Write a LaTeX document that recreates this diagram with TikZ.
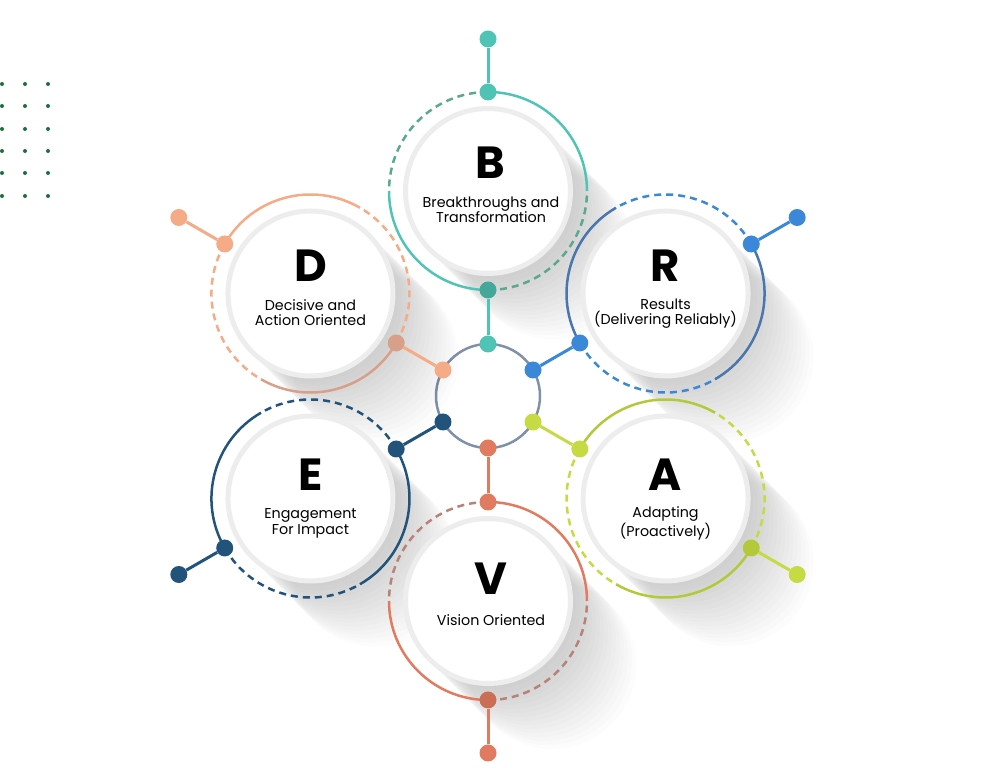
\documentclass[tikz,border=0pt]{standalone}
\usepackage{fontspec}
\setmainfont{Poppins}
\usepackage{tikz}
\usetikzlibrary{calc,positioning}
\usepackage{xcolor}
\definecolor{bteal}{HTML}{4FC4B4}
\definecolor{btealdk}{HTML}{5AA88F}
\definecolor{rblue}{HTML}{3B88D8}
\definecolor{rbluedk}{HTML}{4A76AE}
\definecolor{agreen}{HTML}{C6DA44}
\definecolor{agreendk}{HTML}{B3C93A}
\definecolor{vcoral}{HTML}{E07B5F}
\definecolor{vcoraldk}{HTML}{B98277}
\definecolor{enavy}{HTML}{22537A}
\definecolor{dpeach}{HTML}{F5AB86}
\definecolor{dpeachdk}{HTML}{D9A089}
\definecolor{hubgray}{HTML}{7F90A7}
\definecolor{gridgreen}{HTML}{1F6E3E}

\begin{document}
\begin{tikzpicture}[x=1pt,y=1pt,every node/.style={font=\small}]
\tikzstyle{disk}=[circle,fill=white,draw=black!7,line width=5pt,minimum size=165pt,inner sep=0pt]
\tikzstyle{dot}=[circle,inner sep=0pt,minimum size=17pt]
\tikzstyle{letter}=[font=\fontsize{45}{45}\selectfont\bfseries]
\tikzstyle{caption}=[align=center,font=\fontsize{14.3}{15.5}\selectfont]
\tikzstyle{link}=[line width=3pt]
\tikzstyle{solidarc}=[line width=2.5pt]
\tikzstyle{dasharc}=[line width=2.5pt,dash pattern=on 7pt off 5pt]
\useasboundingbox (0,0) rectangle (991,768);

% dot grid, top left
\foreach \gx in {2,25,48}
  \foreach \gy in {684,662,639,617,595,572}
    \fill[gridgreen] (\gx,\gy) circle[radius=2];

% hub and ring centres
\coordinate (hub) at (488,372);
\coordinate (bc) at ($(hub)+(90:205)$);
\coordinate (rc) at ($(hub)+(30:205)$);
\coordinate (ac) at ($(hub)+(-30:205)$);
\coordinate (vc) at ($(hub)+(-90:205)$);
\coordinate (ec) at ($(hub)+(-150:205)$);
\coordinate (dc) at ($(hub)+(150:205)$);
\draw[hubgray,line width=2.5pt] (hub) circle[radius=52];

% long shadows
\foreach \c in {bc,rc,ac,vc,ec,dc}
  \foreach \d in {4,8,...,64}
    \fill[black,opacity=0.012] ($(\c)+(\d,-\d)$) circle[radius=84];

% rings
\draw[dasharc,btealdk] ($(bc)+(90:99)$) arc[start angle=90,end angle=180,radius=99]
  ($(bc)+(270:99)$) arc[start angle=270,end angle=360,radius=99];
\draw[solidarc,bteal] ($(bc)+(180:99)$) arc[start angle=180,end angle=270,radius=99]
  ($(bc)+(0:99)$) arc[start angle=0,end angle=90,radius=99];
\draw[dasharc,rblue] ($(rc)+(30:99)$) arc[start angle=30,end angle=120,radius=99]
  ($(rc)+(210:99)$) arc[start angle=210,end angle=300,radius=99];
\draw[solidarc,rbluedk] ($(rc)+(120:99)$) arc[start angle=120,end angle=210,radius=99]
  ($(rc)+(300:99)$) arc[start angle=300,end angle=390,radius=99];
\draw[dasharc,agreen] ($(ac)+(-30:99)$) arc[start angle=-30,end angle=60,radius=99]
  ($(ac)+(150:99)$) arc[start angle=150,end angle=240,radius=99];
\draw[solidarc,agreendk] ($(ac)+(60:99)$) arc[start angle=60,end angle=150,radius=99]
  ($(ac)+(240:99)$) arc[start angle=240,end angle=330,radius=99];
\draw[dasharc,vcoraldk] ($(vc)+(-90:99)$) arc[start angle=-90,end angle=0,radius=99]
  ($(vc)+(90:99)$) arc[start angle=90,end angle=180,radius=99];
\draw[solidarc,vcoral] ($(vc)+(0:99)$) arc[start angle=0,end angle=90,radius=99]
  ($(vc)+(180:99)$) arc[start angle=180,end angle=270,radius=99];
\draw[dasharc,enavy] ($(ec)+(210:99)$) arc[start angle=210,end angle=300,radius=99]
  ($(ec)+(30:99)$) arc[start angle=30,end angle=120,radius=99];
\draw[solidarc,enavy] ($(ec)+(300:99)$) arc[start angle=300,end angle=390,radius=99]
  ($(ec)+(120:99)$) arc[start angle=120,end angle=210,radius=99];
\draw[dasharc,dpeach] ($(dc)+(150:99)$) arc[start angle=150,end angle=240,radius=99]
  ($(dc)+(330:99)$) arc[start angle=330,end angle=420,radius=99];
\draw[solidarc,dpeach] ($(dc)+(60:99)$) arc[start angle=60,end angle=150,radius=99];
\draw[solidarc,dpeachdk] ($(dc)+(240:99)$) arc[start angle=240,end angle=330,radius=99];

% dots: hub, inner ring, outer ring, end
\node[dot,fill=bteal] (bh) at ($(hub)+(90:52)$) {};
\node[dot,fill=rblue] (rh) at ($(hub)+(30:52)$) {};
\node[dot,fill=agreen] (ah) at ($(hub)+(-30:52)$) {};
\node[dot,fill=vcoral] (vh) at ($(hub)+(-90:52)$) {};
\node[dot,fill=enavy] (eh) at ($(hub)+(-150:52)$) {};
\node[dot,fill=dpeach] (dh) at ($(hub)+(150:52)$) {};
\node[dot,fill=bteal!85!black] (bi) at ($(hub)+(90:106)$) {};
\node[dot,fill=rblue] (ri) at ($(hub)+(30:106)$) {};
\node[dot,fill=agreen] (ai) at ($(hub)+(-30:106)$) {};
\node[dot,fill=vcoral] (vi) at ($(hub)+(-90:106)$) {};
\node[dot,fill=enavy] (ei) at ($(hub)+(-150:106)$) {};
\node[dot,fill=dpeachdk] (di) at ($(hub)+(150:106)$) {};
\node[dot,fill=bteal] (bo) at ($(hub)+(90:304)$) {};
\node[dot,fill=rblue] (ro) at ($(hub)+(30:304)$) {};
\node[dot,fill=agreendk] (ao) at ($(hub)+(-30:304)$) {};
\node[dot,fill=vcoral!90!black] (vo) at ($(hub)+(-90:304)$) {};
\node[dot,fill=enavy] (eo) at ($(hub)+(-150:304)$) {};
\node[dot,fill=dpeach] (do) at ($(hub)+(150:304)$) {};
\node[dot,fill=bteal] (be) at ($(hub)+(90:357)$) {};
\node[dot,fill=rblue] (re) at ($(hub)+(30:357)$) {};
\node[dot,fill=agreen] (ae) at ($(hub)+(-30:357)$) {};
\node[dot,fill=vcoral] (ve) at ($(hub)+(-90:357)$) {};
\node[dot,fill=enavy] (ee) at ($(hub)+(-150:357)$) {};
\node[dot,fill=dpeach] (de) at ($(hub)+(150:357)$) {};

% links
\draw[link,bteal] (be) -- (bo);
\draw[link,bteal] (bi) -- (bh);
\draw[link,rblue] (re) -- (ro);
\draw[link,rblue] (ri) -- (rh);
\draw[link,agreen] (ae) -- (ao);
\draw[link,agreen] (ai) -- (ah);
\draw[link,vcoral] (ve) -- (vo);
\draw[link,vcoral] (vi) -- (vh);
\draw[link,enavy] (ee) -- (eo);
\draw[link,enavy] (ei) -- (eh);
\draw[link,dpeach] (de) -- (do);
\draw[link,dpeach] (di) -- (dh);

% disks
\node[disk] (b) at (bc) {};
\node[disk] (r) at (rc) {};
\node[disk] (a) at (ac) {};
\node[disk] (v) at (vc) {};
\node[disk] (e) at (ec) {};
\node[disk] (d) at (dc) {};
\node[letter] (bl) at ([xshift=2pt,yshift=28pt]b.center) {B};
\node[caption] (bt) at ([xshift=3pt,yshift=-19pt]b.center) {Breakthroughs and\\Transformation};
\node[letter] (rl) at ([yshift=28pt]r.center) {R};
\node[caption] (rt) at ([yshift=-20pt]r.center) {Results\\(Delivering Reliably)};
\node[letter] (al) at ([yshift=24pt]a.center) {A};
\node[caption] (at) at ([yshift=-25pt]a.center) {Adapting\\(Proactively)};
\node[letter] (vl) at ([xshift=3pt,yshift=22pt]v.center) {V};
\node[caption] (vt) at ([xshift=3pt,yshift=-19pt]v.center) {Vision Oriented};
\node[letter] (el) at ([yshift=24pt]e.center) {E};
\node[caption] (et) at ([yshift=-25pt]e.center) {Engagement\\For Impact};
\node[letter] (dl) at ([yshift=28pt]d.center) {D};
\node[caption] (dt) at ([yshift=-19pt]d.center) {Decisive and\\Action Oriented};
\end{tikzpicture}
\end{document}
